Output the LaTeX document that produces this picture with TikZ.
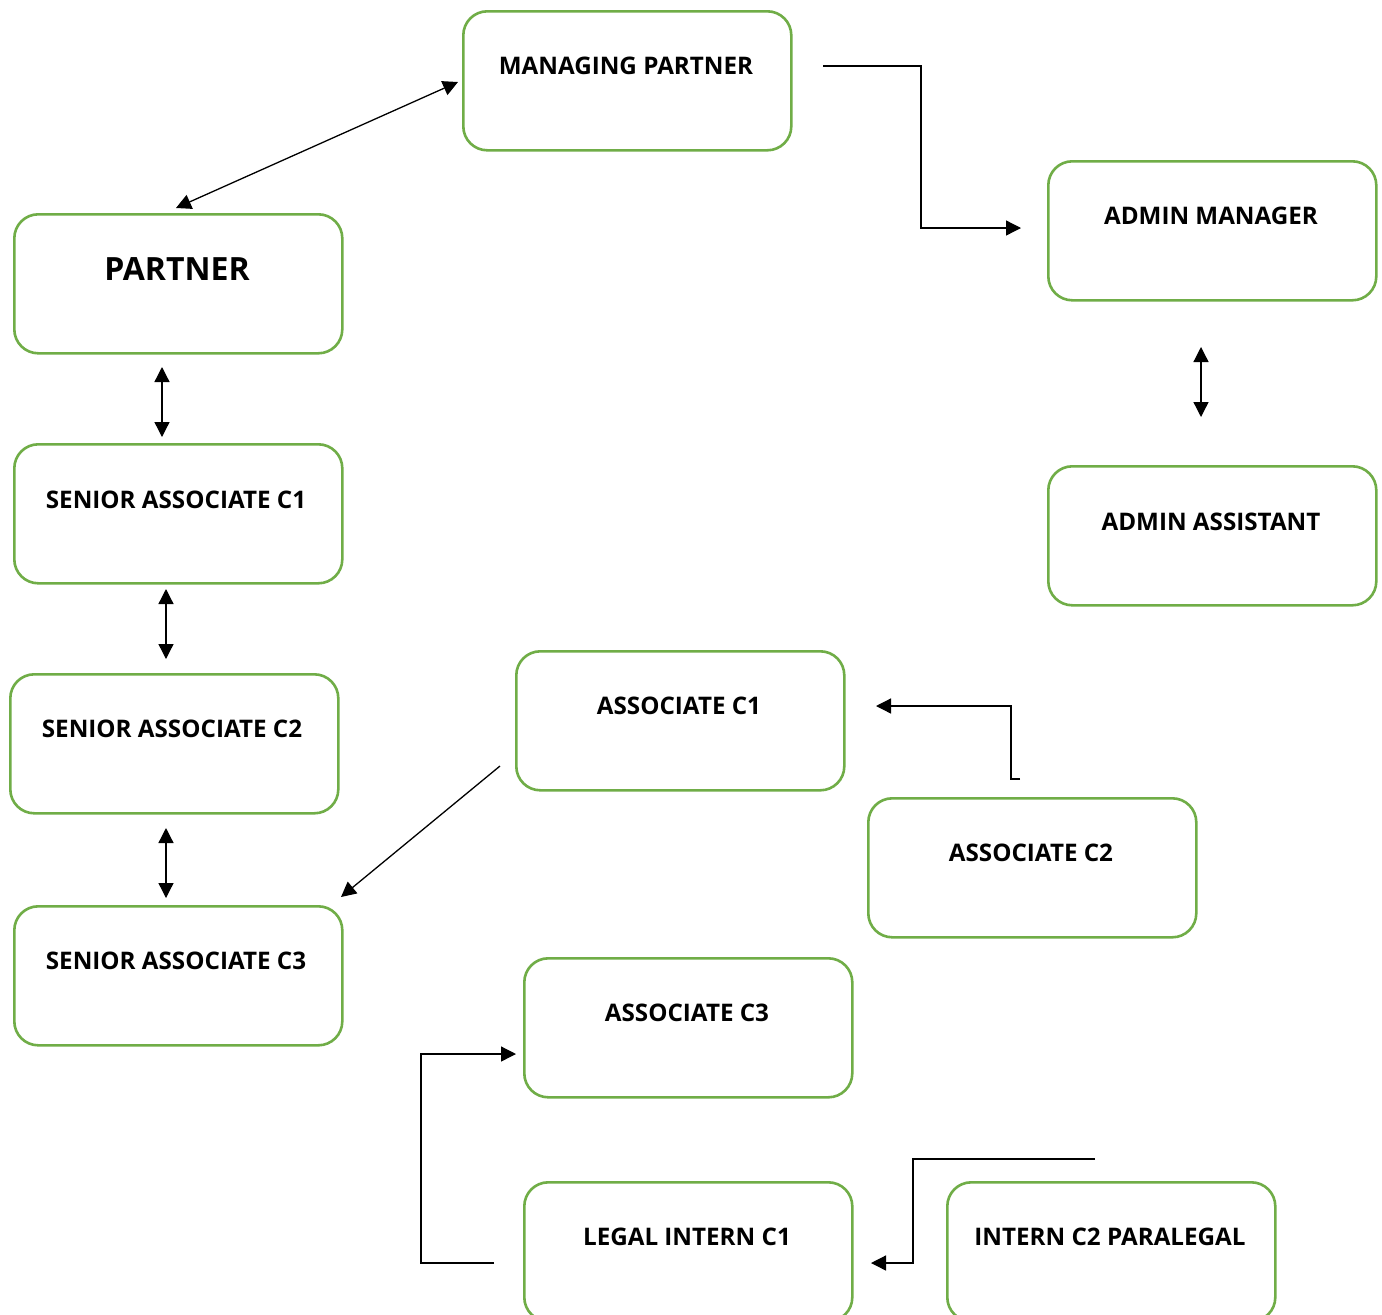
\documentclass[tikz,border=0pt]{standalone}
\usepackage{fontspec}
\setmainfont{Open Sans}
\usetikzlibrary{arrows.meta,calc}
\definecolor{boxgreen}{HTML}{70AD47}
\tikzset{
  orgbox/.style={draw=boxgreen, line width=2.6pt, rounded corners=24pt,
    minimum width=328pt, minimum height=139pt, inner sep=0pt, anchor=north west},
  orglabel/.style={font=\bfseries\fontsize{24.2}{28}\selectfont, anchor=center, inner sep=0pt},
  biglabel/.style={font=\bfseries\fontsize{32}{36}\selectfont, anchor=center, inner sep=0pt},
  conn/.style={line width=1.3pt, black},
  tip/.style={-{Triangle[length=15pt,width=15pt]}},
  tips/.style={{Triangle[length=15pt,width=15pt]}-{Triangle[length=15pt,width=15pt]}}
}
\begin{document}
\begin{tikzpicture}[x=1pt,y=-1pt]
\clip (0,0) rectangle (1382,1315);
\fill[white] (0,0) rectangle (1382,1315);
% boxes
\node[orgbox] (mp)  at (462,10) {};
\node[orgbox] (pa)  at (13,213) {};
\node[orgbox] (sa1) at (13,443) {};
\node[orgbox] (sa2) at (9,673) {};
\node[orgbox] (sa3) at (13,905) {};
\node[orgbox] (am)  at (1047,160) {};
\node[orgbox] (aa)  at (1047,465) {};
\node[orgbox] (a1)  at (515,650) {};
\node[orgbox] (a2)  at (867,797) {};
\node[orgbox] (a3)  at (523,957) {};
\node[orgbox] (li)  at (523,1181) {};
\node[orgbox] (ip)  at (946,1181) {};
% labels
\node[orglabel] (tmp)  at (626,66)  {MANAGING PARTNER};
\node[biglabel] (tpa)  at (177,269) {PARTNER};
\node[orglabel] (tsa1) at (176,500) {SENIOR ASSOCIATE C1};
\node[orglabel] (tsa2) at (172,729) {SENIOR ASSOCIATE C2};
\node[orglabel] (tsa3) at (176,961) {SENIOR ASSOCIATE C3};
\node[orglabel] (tam)  at (1211,216) {ADMIN MANAGER};
\node[orglabel] (taa)  at (1211,522) {ADMIN ASSISTANT};
\node[orglabel] (ta1)  at (679,706) {ASSOCIATE C1};
\node[orglabel] (ta2)  at (1031,853) {ASSOCIATE C2};
\node[orglabel] (ta3)  at (687,1013) {ASSOCIATE C3};
\node[orglabel] (tli)  at (687,1237) {LEGAL INTERN C1};
\node[orglabel] (tip2) at (1110,1237) {INTERN C2 PARALEGAL};
% connector end points
\coordinate (mpW)  at (458,82);
\coordinate (paN)  at (176,208);
\coordinate (mpE)  at (823,66);
\coordinate (amW)  at (1021,228);
\coordinate (paS)  at (162,367);
\coordinate (sa1N) at (162,437);
\coordinate (sa1S) at (166,589);
\coordinate (sa2N) at (166,659);
\coordinate (sa2S) at (166,828);
\coordinate (sa3N) at (166,898);
\coordinate (amS)  at (1201,347);
\coordinate (aaN)  at (1201,417);
\coordinate (a1W)  at (500,766);
\coordinate (sa3E) at (341,897);
\coordinate (a2N)  at (1020,779);
\coordinate (a1E)  at (876,706);
\coordinate (liW)  at (494,1263);
\coordinate (a3W)  at (516,1054);
\coordinate (ipN)  at (1095,1159);
\coordinate (liE)  at (871,1263);
% connectors
\draw[conn,tips] (mpW) -- (paN);
\draw[conn,tip] (mpE) -- (921,66) -- (921,228) -- (amW);
\draw[conn,tips] (paS) -- (sa1N);
\draw[conn,tips] (sa1S) -- (sa2N);
\draw[conn,tips] (sa2S) -- (sa3N);
\draw[conn,tips] (amS) -- (aaN);
\draw[conn,tip] (a1W) -- (sa3E);
\draw[conn,tip] (a2N) -- (1011,779) -- (1011,706) -- (a1E);
\draw[conn,tip] (liW) -- (421,1263) -- (421,1054) -- (a3W);
\draw[conn,tip] (ipN) -- (913,1159) -- (913,1263) -- (liE);
\end{tikzpicture}
\end{document}
